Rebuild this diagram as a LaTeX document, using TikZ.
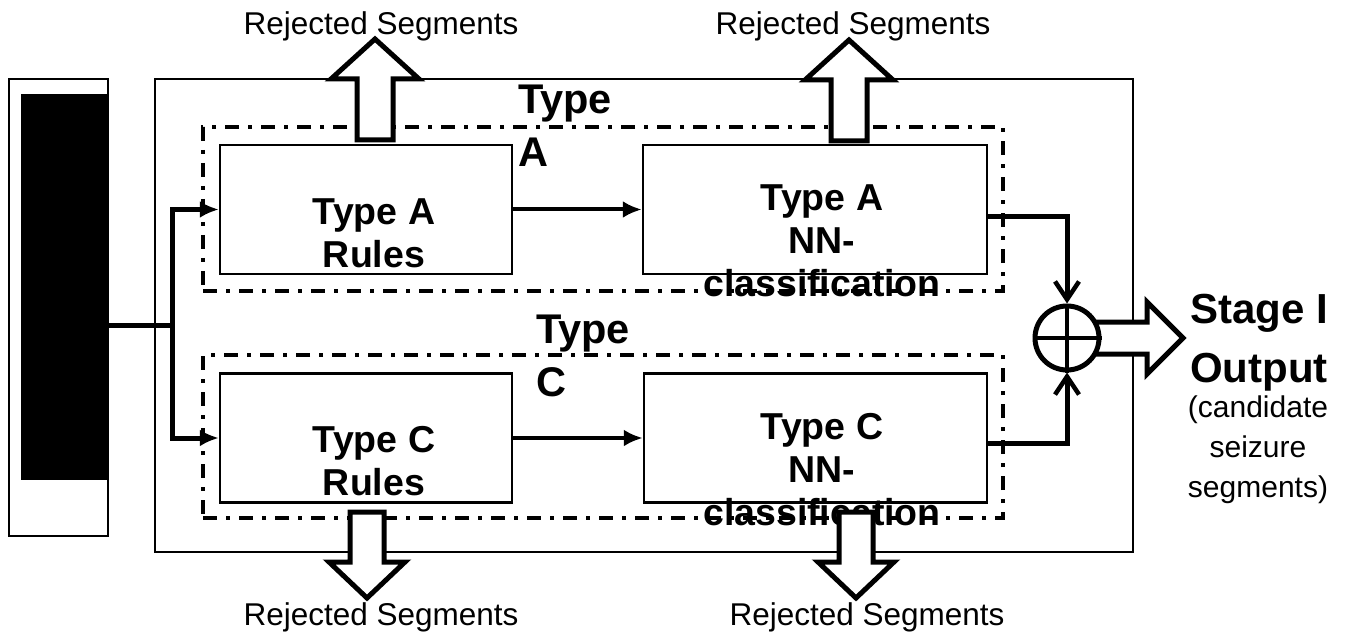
\documentclass[tikz,border=0pt]{standalone}
\usepackage{fontspec}
\setmainfont{Liberation Sans}
\usetikzlibrary{arrows.meta,calc}
\begin{document}
\begin{tikzpicture}[x=1pt,y=-1pt,
  frame/.style={draw,line width=2.5pt,inner sep=0pt},
  stagebox/.style={frame,minimum height=129pt},
  dashdot/.style={draw,line width=3.5pt,dash pattern=on 14pt off 9pt on 4pt off 9pt},
  conn/.style={line width=5pt},
  tipfill/.style={-{Latex[length=19pt,width=17pt]}},
  tipopen/.style={-{Straight Barb[length=18pt,width=24pt,line width=4.5pt]}},
  boxtext/.style={font=\fontsize{37.5}{43}\selectfont\bfseries,align=center,inner sep=0pt},
  grouptext/.style={font=\fontsize{41.5}{53}\selectfont\bfseries,align=left,inner sep=0pt,anchor=north west},
  rejtext/.style={font=\fontsize{31.5}{36}\selectfont,inner sep=0pt,anchor=base},
  hollow/.style={fill=white,draw,line width=5pt,line join=miter},
  hollowup/.pic={\path[hollow] (-18,61) -- (-18,0) -- (-44,0) -- (0,-40) -- (44,0) -- (18,0) -- (18,61) -- cycle;},
  hollowdown/.pic={\path[hollow] (-17,-50) -- (-17,0) -- (-38,0) -- (0,36) -- (38,0) -- (17,0) -- (17,-50) -- cycle;}
]
\useasboundingbox (0,0) rectangle (1355,639);

% main frame
\node[frame,minimum width=978pt,minimum height=473pt] (main) at (644,315.5) {};

% input block
\node[frame,minimum width=99pt,minimum height=457pt] (input) at (58.5,307.5) {};
\fill (21,94) rectangle (108,480);

% dash-dot groups
\node[dashdot,minimum width=800pt,minimum height=164pt,inner sep=0pt] (grpA) at (603,209) {};
\node[dashdot,minimum width=800pt,minimum height=163pt,inner sep=0pt] (grpC) at (603,436.5) {};

% stage boxes
\node[stagebox,minimum width=292pt] (rulesA) at (366,209.5) {};
\node[stagebox,minimum width=344pt] (nnA) at (815,209.5) {};
\node[stagebox,minimum width=292pt] (rulesC) at (366,438) {};
\node[stagebox,minimum width=343pt] (nnC) at (815.5,438) {};

% texts
\node[boxtext] (rulesAt) at ($(rulesA.center)+(8,23.5)$) {Type A\\Rules};
\node[boxtext] (rulesCt) at ($(rulesC.center)+(8,23)$) {Type C\\Rules};
\node[boxtext] (nnAt) at ($(nnA.center)+(7,31)$) {Type A\\NN-\\classification};
\node[boxtext] (nnCt) at ($(nnC.center)+(6.5,31.5)$) {Type C\\NN-\\classification};
\node[grouptext] (grpAt) at (518,85) {Type\\A};
\node[grouptext] (grpCt) at (536,315) {Type\\C};

% connectors
\coordinate (split) at (172,325);
\draw[conn] (input.east |- split) -- (split);
\draw[conn,tipfill] (split) |- (rulesA.west);
\draw[conn,tipfill] (split) |- (rulesC.west);
\draw[conn,line width=4pt,tipfill] (rulesA.east) -- (nnA.west);
\draw[conn,line width=4pt,tipfill] (rulesC.east) -- (nnC.west);

% summing junction and output arrow
\coordinate (sumc) at (1067,338);
\path[hollow] ($(sumc)+(27,-16)$) -- (1147,322) -- (1147,302) -- (1183,338) -- (1147,374) -- (1147,354) -- ($(sumc)+(27,16)$);
\node[draw,circle,fill=white,line width=5pt,minimum size=64pt,inner sep=0pt] (sum) at (sumc) {};
\draw[line width=4.5pt] (sum.north) -- (sum.south) (sum.west) -- (sum.east);
\draw[conn,tipopen] ([yshift=-7pt]nnA.east) -| (sum.north);
\draw[conn,tipopen] ([yshift=-5pt]nnC.east) -| (sum.south);

\node[font=\fontsize{42}{59}\selectfont\bfseries,align=center,inner sep=0pt,anchor=north] (stageout) at (1259,294) {Stage I\\Output};
\node[font=\fontsize{30}{40}\selectfont,align=center,inner sep=0pt,anchor=north] (cand) at (1258,396) {(candidate\\seizure\\segments)};

% rejected segments arrows
\pic at (375,79) {hollowup};
\pic at (849,80) {hollowup};
\pic at (367,562) {hollowdown};
\pic at (856,562) {hollowdown};
\node[rejtext] (rej1) at (381,35) {Rejected Segments};
\node[rejtext] (rej2) at (853,35) {Rejected Segments};
\node[rejtext] (rej3) at (381,625) {Rejected Segments};
\node[rejtext] (rej4) at (867,625) {Rejected Segments};
\end{tikzpicture}
\end{document}
